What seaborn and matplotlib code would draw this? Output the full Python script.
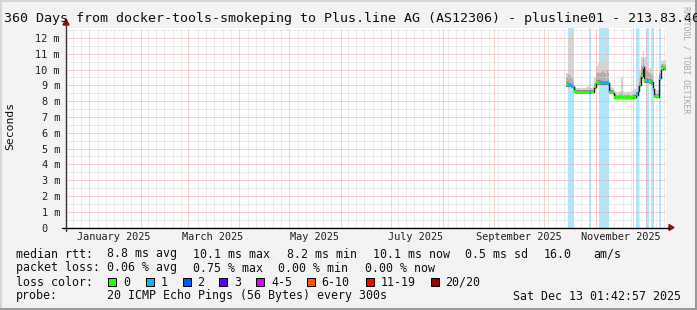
import numpy as np
import pandas as pd
import matplotlib
matplotlib.use("Agg")
import matplotlib.pyplot as plt
from matplotlib.patches import Rectangle, Polygon
from matplotlib.lines import Line2D
from matplotlib.transforms import ScaledTranslation
import seaborn as sns

W, H = 697, 310

# ------------------------------------------------------------------ data
title = "360 Days from docker-tools-smokeping to Plus.line AG (AS12306) - plusline01 - 213.83.46"
ylabel = "Seconds"
watermark = "RRDTOOL / TOBI OETIKER"
t_start = pd.Timestamp("2024-12-18 01:42:57")
t_end = pd.Timestamp("2025-12-13 01:42:57")

days = pd.date_range("2025-10-14", periods=60, freq="D")

median_ms = [9.05, 9.05, 9.00, 8.95, 8.90, 8.60, 8.56, 8.56, 8.56, 8.56,
             8.56, 8.56, 8.56, 8.56, 8.56, 8.56, 8.58, 8.90, 9.20, 9.20,
             9.18, 9.15, 9.15, 9.15, 9.15, 9.12, 8.56, 8.56, 8.50, 8.22,
             8.20, 8.20, 8.20, 8.20, 8.20, 8.20, 8.20, 8.20, 8.20, 8.20,
             8.22, 8.25, 8.40, 8.65, 9.05, 9.60, 10.15, 9.30, 9.30, 9.28,
             9.25, 9.20, 8.75, 8.30, 8.27, 8.27, 9.45, 10.05, 10.10, 10.10]

loss = [0, 1, 1, 1, 1, 0, 0, 0, 0, 0,
        0, 0, 0, 0, 1, 0, 0, 0, 0, 0,
        1, 1, 1, 1, 1, 1, 0, 0, 0, 0,
        0, 0, 0, 0, 0, 0, 0, 0, 0, 0,
        1, 0, 1, 1, 0, 0, 0, 0, 1, 1,
        0, 1, 1, 0, 0, 0, 1, 0, 0, 0]

smoke_min = [8.92, 8.92, 8.88, 8.82, 8.78, 8.50, 8.48, 8.48, 8.48, 8.48,
             8.48, 8.48, 8.48, 8.48, 8.48, 8.48, 8.50, 8.78, 9.05, 9.05,
             9.03, 9.00, 9.00, 9.00, 9.00, 8.98, 8.48, 8.48, 8.42, 8.14,
             8.12, 8.12, 8.12, 8.12, 8.12, 8.12, 8.12, 8.12, 8.12, 8.12,
             8.14, 8.16, 8.30, 8.52, 8.92, 9.40, 9.95, 9.15, 9.15, 9.13,
             9.10, 9.05, 8.62, 8.20, 8.18, 8.18, 9.30, 9.95, 10.00, 10.00]

smoke_q75 = [9.55, 9.70, 9.65, 9.50, 9.25, 8.75, 8.70, 8.70, 8.70, 8.70,
             8.70, 8.70, 8.70, 8.72, 8.80, 8.70, 8.72, 9.15, 9.75, 9.85,
             9.80, 9.85, 9.90, 9.80, 9.95, 9.80, 8.80, 8.72, 8.68, 8.42,
             8.40, 8.40, 8.42, 8.55, 8.42, 8.40, 8.40, 8.42, 8.40, 8.40,
             8.42, 8.45, 8.60, 8.95, 9.50, 10.20, 10.65, 10.05, 9.95, 9.85,
             9.80, 9.65, 9.15, 8.50, 8.48, 8.48, 9.80, 10.35, 10.35, 10.35]

smoke_max = [9.80, 11.90, 12.10, 12.50, 10.40, 8.95, 8.85, 8.85, 8.85, 8.85,
             8.85, 8.85, 8.90, 8.95, 9.05, 8.85, 8.90, 9.50, 10.20, 10.40,
             10.50, 10.60, 10.40, 10.60, 11.60, 10.60, 9.05, 8.90, 8.80, 8.62,
             8.60, 8.60, 8.65, 9.50, 8.65, 8.60, 8.60, 8.62, 8.60, 8.62,
             8.65, 8.75, 9.00, 9.45, 10.00, 10.80, 11.20, 10.80, 10.40, 10.20,
             10.10, 10.00, 9.50, 8.80, 8.70, 8.70, 10.00, 10.55, 10.60, 10.60]

y_ticks = list(range(0, 13))
y_ticklabels = ["0"] + [f"{v} m" for v in range(1, 13)]
month_starts = pd.date_range("2025-01-01", "2025-12-01", freq="MS")
x_label_dates = pd.to_datetime(["2025-01-16", "2025-03-16", "2025-05-16",
                                "2025-07-16", "2025-09-16", "2025-11-16"])
x_labels = ["January 2025", "March 2025", "May 2025", "July 2025",
            "September 2025", "November 2025"]

loss_levels = ["0", "1", "2", "3", "4-5", "6-10", "11-19", "20/20"]
loss_colors = ["#26ff00", "#00b8ff", "#0059ff", "#5e00ff", "#dd00ff",
               "#ff5500", "#ff0000", "#a10000"]

rtt_stats = ["8.8 ms avg", "10.1 ms max", "8.2 ms min", "10.1 ms now",
             "0.5 ms sd", "16.0", "am/s"]
loss_stats = ["0.06 % avg", "0.75 % max", "0.00 % min", "0.00 % now"]
probe_text = "20 ICMP Echo Pings (56 Bytes) every 300s"
timestamp = "Sat Dec 13 01:42:57 2025"

# ------------------------------------------------------------------ style
sns.set_style("white")
MONO = ["DejaVu Sans Mono"]
plt.rcParams["font.family"] = MONO
plt.rcParams["axes.unicode_minus"] = False

fig = plt.figure(figsize=(W / 100, H / 100), dpi=100, facecolor="#f3f3f3")

AX_L, AX_R, AX_T, AX_B = 66, 666, 27.5, 227.5
ax = fig.add_axes([AX_L / W, 1 - AX_B / H, (AX_R - AX_L) / W, (AX_B - AX_T) / H])
ax.set_facecolor("white")
for s in ax.spines.values():
    s.set_visible(False)
ax.set_xlim(t_start, t_end)
ax.set_ylim(0, 12.66)

one_day = pd.Timedelta(days=1)
x_edges = list(days) + [days[-1] + one_day]

def ext(a):
    return list(a) + [a[-1]]

# loss background bands
for d, l in zip(days, loss):
    if l > 0:
        ax.axvspan(d, d + one_day, color=loss_colors[l], alpha=0.33, lw=0, zorder=1)

# smoke (shades of grey, darker close to the median)
ax.fill_between(x_edges, ext(smoke_min), ext(smoke_max), step="post",
                color="#d4d4d4", lw=0, zorder=2)
ax.fill_between(x_edges, ext(smoke_min), ext(smoke_q75), step="post",
                color="#b0b0b0", lw=0, zorder=2.1)
ax.fill_between(x_edges, ext(smoke_min), ext(np.array(median_ms) + 0.15),
                step="post", color="#8a8a8a", lw=0, zorder=2.2)

# grid (rrdtool style, dotted)
px_lw = 0.72
for v in np.arange(0.5, 12.6, 1.0):
    ax.axhline(v, color="#d9d9d9", lw=px_lw, ls=(0, (1, 1)), zorder=3)
for d in pd.date_range("2024-12-22", t_end, freq="5D"):
    if min(abs((d - m).days) for m in month_starts) >= 2:
        ax.axvline(d, color="#d9d9d9", lw=px_lw, ls=(0, (1, 1)), zorder=3)
for v in range(1, 13):
    ax.axhline(v, color="#f4a4a4", lw=px_lw, ls=(0, (1, 1)), zorder=3.1)
for m in month_starts:
    ax.axvline(m, color="#f4a4a4", lw=px_lw, ls=(0, (1, 1)), zorder=3.1)

# median (black step line) + loss-coloured median marks
df = pd.DataFrame({"time": x_edges, "median": ext(median_ms)})
sns.lineplot(data=df, x="time", y="median", drawstyle="steps-post",
             color="#202020", lw=1.0, ax=ax, zorder=4)
ax.bar(days, [0.19] * len(days), bottom=np.array(median_ms) - 0.095,
       width=1.0, align="edge", color=[loss_colors[l] for l in loss],
       lw=0, zorder=5)
ax.set_xlabel("")
ax.set_ylabel("")

# ticks
ax.set_yticks(y_ticks)
ax.set_yticklabels(y_ticklabels, fontsize=7.4, color="#202020")
ax.tick_params(axis="y", which="major", length=3 * 0.72, width=0.72,
               color="#555555", pad=2.2)
ylabs = ax.get_yticklabels()
ylabs[0].set_transform(ylabs[0].get_transform() +
                       ScaledTranslation(-12 / 100, 0, fig.dpi_scale_trans))
ax.set_xticks(month_starts)
ax.set_xticklabels([""] * len(month_starts))
ax.tick_params(axis="x", which="major", length=3 * 0.72, width=0.72,
               color="#f4a4a4", pad=1)
ax.set_xticks(x_label_dates, minor=True)
ax.set_xticklabels(x_labels, minor=True, fontsize=7.4, color="#202020")
ax.tick_params(axis="x", which="minor", length=0, pad=3.2)
ax.grid(False)

# ------------------------------------------------------------------ figure decorations
def fx(x):
    return x / W

def fy(y):
    return 1 - y / H

# axis lines + arrows
fig.add_artist(Line2D([fx(62), fx(669)], [fy(AX_B), fy(AX_B)], color="black",
                      lw=1.0, transform=fig.transFigure))
fig.add_artist(Line2D([fx(AX_L), fx(AX_L)], [fy(231), fy(24)], color="#333333",
                      lw=1.0, transform=fig.transFigure))
fig.add_artist(Polygon([(fx(669), fy(AX_B - 3)), (fx(669), fy(AX_B + 3)),
                        (fx(674), fy(AX_B))], closed=True, color="#8b1010",
                       transform=fig.transFigure))
fig.add_artist(Polygon([(fx(AX_L - 3), fy(25)), (fx(AX_L + 3), fy(25)),
                        (fx(AX_L), fy(19))], closed=True, color="#8b1010",
                       transform=fig.transFigure))

# title
fig.text(fx(4), fy(18.5), title, fontsize=9.6, color="#111111",
         ha="left", va="center")
# y label
fig.text(fx(10), fy(126), ylabel, fontsize=8.2, rotation=90,
         ha="center", va="center", color="#111111")
# watermark
fig.text(fx(686), fy(60), watermark, fontsize=5.9, rotation=270,
         ha="center", va="center", color="#a8a8a8")

LF = 8.4
def ltext(x, y, s):
    fig.text(fx(x), fy(y), s, fontsize=LF, ha="left", va="center", color="#111111")

ltext(16, 254, "median rtt:")
for x, s in zip([107, 193, 287, 373, 465, 544, 593], rtt_stats):
    ltext(x, 254, s)
ltext(16, 268, "packet loss:")
for x, s in zip([107, 193, 278, 365], loss_stats):
    ltext(x, 268, s)
ltext(16, 282, "loss color:")
box_x = [108, 145.5, 182.5, 219, 256, 306.5, 365.5, 430.5]
for bx, lab, col in zip(box_x, loss_levels, loss_colors):
    fig.add_artist(Rectangle((fx(bx), fy(286)), 8 / W, 8 / H, facecolor=col,
                             edgecolor="black", lw=0.72, transform=fig.transFigure))
    ltext(bx + 15, 282, lab)
ltext(16, 296, "probe:")
ltext(107, 296, probe_text)
ltext(513, 296, timestamp)

# outer frame (3D look)
fig.add_artist(Line2D([fx(0.5), fx(0.5)], [0, 1], color="#d6d6d6", lw=1.5,
                      transform=fig.transFigure))
fig.add_artist(Line2D([0, 1], [fy(0.5), fy(0.5)], color="#d6d6d6", lw=1.5,
                      transform=fig.transFigure))
fig.add_artist(Line2D([fx(695.5), fx(695.5)], [0, 1], color="#9a9a9a", lw=2.2,
                      transform=fig.transFigure))
fig.add_artist(Line2D([0, 1], [fy(308.5), fy(308.5)], color="#9a9a9a", lw=2.2,
                      transform=fig.transFigure))

fig.savefig("out.png", dpi=100, facecolor=fig.get_facecolor())
